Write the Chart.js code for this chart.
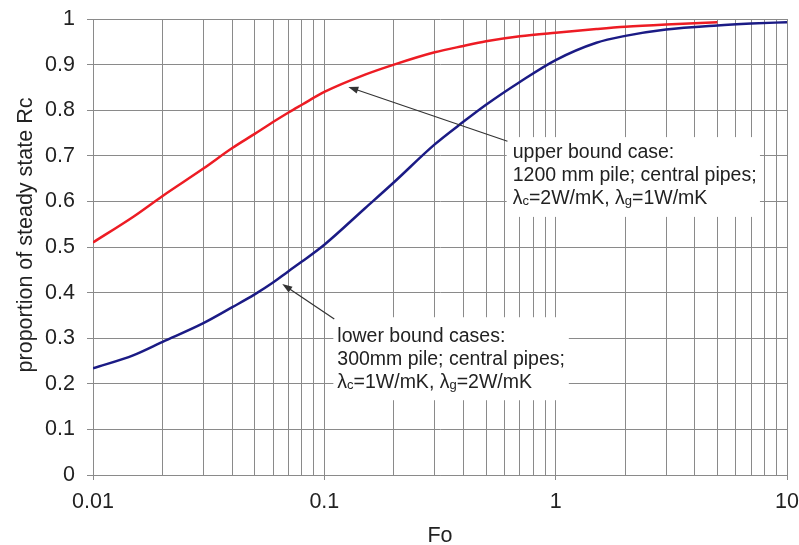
<!DOCTYPE html>
<html lang="en">
<head>
  <meta charset="utf-8">
  <title>Proportion of steady state Rc vs Fo</title>
  <script src="https://cdn.jsdelivr.net/npm/chart.js@4/dist/chart.umd.min.js"></script>
  <style>
    html, body { margin:0; padding:0; background:#fff; }
    #wrap { width:799px; height:545px; position:relative; }
  </style>
</head>
<body>
  <div id="wrap"><canvas id="rcChart"></canvas></div>

  <script>
    // curve values (Fo on a log axis)
    const foUpper = [0.01,0.015,0.02,0.03,0.04,0.05,0.06,0.07,0.08,0.1,0.15,0.2,0.3,0.4,0.5,0.7,1,1.5,2,3,5];
    const rcUpper = [0.51,0.567,0.612,0.672,0.717,0.748,0.774,0.795,0.812,0.840,0.878,0.900,0.927,0.941,0.951,0.962,0.970,0.978,0.983,0.988,0.993];
    const foLower = [0.01,0.015,0.02,0.03,0.04,0.05,0.06,0.07,0.08,0.1,0.15,0.2,0.3,0.4,0.5,0.7,1,1.5,2,3,5,7,10];
    const rcLower = [0.234,0.263,0.292,0.333,0.368,0.396,0.422,0.447,0.468,0.505,0.585,0.642,0.725,0.775,0.812,0.862,0.910,0.948,0.963,0.977,0.986,0.990,0.993];

    // axes
    const xGrid = [0.01,0.02,0.03,0.04,0.05,0.06,0.07,0.08,0.09,
                   0.1,0.2,0.3,0.4,0.5,0.6,0.7,0.8,0.9,
                   1,2,3,4,5,6,7,8,9,10];
    const xMajor = [0.01,0.1,1,10];
    const xLabels = ['0.01','0.1','1','10'];
    const yLabels = ['0','0.1','0.2','0.3','0.4','0.5','0.6','0.7','0.8','0.9','1'];
    const xTitle = 'Fo';
    const yTitle = 'proportion of steady state Rc';

    // callouts, anchored in data units (Fo, Rc); '_' marks a subscript letter
    const notes = [
      { lines:['upper bound case:','1200 mm pile; central pipes;','λ_c=2W/mK, λ_g=1W/mK'],
        text:[0.652,0.696], box:[0.614,7.64,0.741,0.566], tail:[0.619,0.732], tip:[0.127,0.851] },
      { lines:['lower bound cases:','300mm pile; central pipes;','λ_c=1W/mK, λ_g=2W/mK'],
        text:[0.1138,0.292], box:[0.1094,1.14,0.346,0.164], tail:[0.1104,0.342], tip:[0.0658,0.419] }
    ];

    const FAM = '"Liberation Sans", Arial, sans-serif';
    const GRID = '#8a8a8a';
    const INK = '#222';

    function drawRich(ctx, str, x, y){
      let cx = x, i = 0;
      while(i < str.length){
        let sub = false, run = '';
        if(str[i] === '_'){ sub = true; run = str[i+1]; i += 2; }
        else { while(i < str.length && str[i] !== '_'){ run += str[i]; i++; } }
        ctx.font = (sub ? '13px ' : '19.5px ') + FAM;
        ctx.fillText(run, cx, y + (sub ? 1 : 0));
        cx += ctx.measureText(run).width;
      }
    }

    const notesPlugin = {
      id:'notes',
      afterDatasetsDraw(chart){
        const {ctx, scales:{x, y}} = chart;
        ctx.save();
        notes.forEach(n => {
          const bx0 = x.getPixelForValue(n.box[0]), bx1 = x.getPixelForValue(n.box[1]);
          const by0 = y.getPixelForValue(n.box[2]), by1 = y.getPixelForValue(n.box[3]);
          ctx.fillStyle = '#fff';
          ctx.fillRect(bx0, by0, bx1 - bx0, by1 - by0);
          ctx.fillStyle = INK;
          ctx.textBaseline = 'alphabetic';
          ctx.textAlign = 'left';
          const tx = x.getPixelForValue(n.text[0]), ty = y.getPixelForValue(n.text[1]);
          n.lines.forEach((l, k) => drawRich(ctx, l, tx, ty + k * 23));
          // arrow
          const ax = x.getPixelForValue(n.tail[0]), ay = y.getPixelForValue(n.tail[1]);
          const px = x.getPixelForValue(n.tip[0]), py = y.getPixelForValue(n.tip[1]);
          const ang = Math.atan2(py - ay, px - ax);
          ctx.strokeStyle = '#333'; ctx.fillStyle = '#333'; ctx.lineWidth = 1.2;
          ctx.beginPath();
          ctx.moveTo(ax, ay);
          ctx.lineTo(px - 8 * Math.cos(ang), py - 8 * Math.sin(ang));
          ctx.stroke();
          ctx.beginPath();
          ctx.moveTo(px, py);
          ctx.lineTo(px - 10 * Math.cos(ang) + 3.5 * Math.sin(ang), py - 10 * Math.sin(ang) - 3.5 * Math.cos(ang));
          ctx.lineTo(px - 10 * Math.cos(ang) - 3.5 * Math.sin(ang), py - 10 * Math.sin(ang) + 3.5 * Math.cos(ang));
          ctx.closePath();
          ctx.fill();
        });
        ctx.restore();
      },
      afterDraw(chart){
        const {ctx, chartArea:a} = chart;
        ctx.save();
        ctx.fillStyle = INK;
        ctx.font = '21.5px ' + FAM;
        ctx.textAlign = 'center';
        ctx.textBaseline = 'middle';
        ctx.fillText(xTitle, (a.left + a.right) / 2, 536);
        ctx.translate(26, (a.top + a.bottom) / 2 - 12);
        ctx.rotate(-Math.PI / 2);
        ctx.fillText(yTitle, 0, 0);
        ctx.restore();
      }
    };

    const tickFont = { family: FAM, size: 21.5 };

    new Chart(document.getElementById('rcChart'), {
      type:'line',
      data:{
        datasets:[
          { label:'upper bound', data: foUpper.map((f, i) => ({x:f, y:rcUpper[i]})),
            borderColor:'#ed1c24', borderWidth:2.5, pointRadius:0, cubicInterpolationMode:'monotone', fill:false },
          { label:'lower bound', data: foLower.map((f, i) => ({x:f, y:rcLower[i]})),
            borderColor:'#1b1b85', borderWidth:2.5, pointRadius:0, cubicInterpolationMode:'monotone', fill:false }
        ]
      },
      options:{
        responsive:true, maintainAspectRatio:false, animation:false,
        layout:{ padding:{ top:19, right:12, left:0, bottom:0 } },
        plugins:{ legend:{display:false}, tooltip:{enabled:false} },
        scales:{
          x:{
            type:'logarithmic', min:0.01, max:10,
            afterBuildTicks: s => { s.ticks = xGrid.map(v => ({value:v})); },
            afterFit: s => { s.height = 70; s.paddingLeft = 0; s.paddingRight = 0; },
            ticks:{ autoSkip:false, maxRotation:0, padding:9, color:INK, font:tickFont,
              callback: v => { const k = xMajor.indexOf(v); return k < 0 ? '' : xLabels[k]; } },
            grid:{ color:GRID, lineWidth:1, tickLength:5,
              tickColor: c => xMajor.includes(c.tick && c.tick.value) ? GRID : 'rgba(0,0,0,0)' },
            border:{ color:GRID }
          },
          y:{
            min:0, max:1,
            afterFit: s => { s.width = 93; s.paddingTop = 0; s.paddingBottom = 0; },
            ticks:{ stepSize:0.1, padding:12, color:INK, font:tickFont,
              callback: (v, i) => yLabels[i] },
            grid:{ color:GRID, lineWidth:1, tickLength:6 },
            border:{ color:GRID }
          }
        }
      },
      plugins:[notesPlugin]
    });
  </script>
</body>
</html>
